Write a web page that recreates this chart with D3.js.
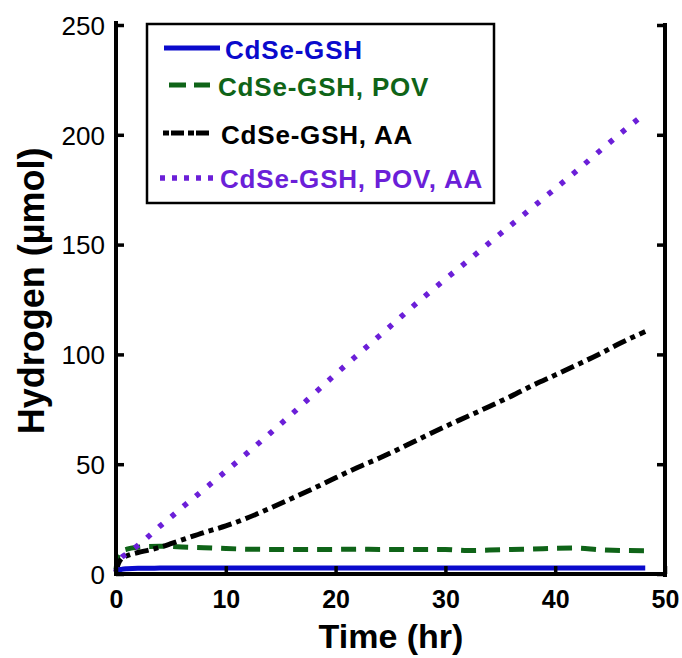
<!DOCTYPE html>
<html>
<head>
<meta charset="utf-8">
<script src="https://cdn.jsdelivr.net/npm/d3@7"></script>
<style>
  html, body { margin: 0; padding: 0; background: #fff; }
  svg { display: block; }
  text { font-family: "Liberation Sans", Arial, Helvetica, sans-serif; }
</style>
</head>
<body>
<svg id="chart" width="682" height="658"></svg>
<script>
// Hydrogen evolution over time for CdSe-GSH systems
const timeHr = [0, 0.2, 0.5, 1, 2, 3, 4, 5, 6, 8, 10, 12, 14, 16, 18, 20, 22, 24, 26, 28, 30, 32, 34, 36, 38, 40, 42, 44, 46, 48.2];

const seriesNames = ["CdSe-GSH", "CdSe-GSH, POV", "CdSe-GSH, AA", "CdSe-GSH, POV, AA"];

const h2Gsh = [0.8, 1.6, 2.1, 2.4, 2.6, 2.6, 2.7, 2.7, 2.7, 2.7, 2.7, 2.7, 2.7, 2.7, 2.7, 2.7, 2.7, 2.7, 2.7, 2.7, 2.7, 2.7, 2.7, 2.7, 2.7, 2.7, 2.7, 2.7, 2.7, 2.7];
const h2GshPov = [2, 8.5, 10.3, 11.3, 12.2, 12.5, 12.6, 12.5, 12.3, 12.0, 11.6, 11.3, 11.2, 11.2, 11.2, 11.2, 11.3, 11.2, 11.2, 11.2, 11.2, 10.7, 10.9, 11.2, 11.4, 11.7, 11.8, 11.1, 10.7, 10.6];
const h2GshAa = [1, 4.5, 7, 8.3, 9.8, 10.9, 12.2, 13.8, 15.5, 18.9, 21.9, 25.6, 29.9, 34.4, 39, 43.8, 48.5, 52.8, 57.5, 62.4, 67.2, 71.7, 76.3, 81, 86, 90.6, 95.3, 100.1, 105.3, 110.4];
const h2GshPovAa = [1, 5.5, 7.5, 9.2, 13, 17.3, 21.8, 25.9, 30.2, 38.5, 46.8, 55.3, 63.9, 72.8, 81.9, 91, 99.8, 108.5, 117.3, 126, 134.3, 142.4, 150.8, 159, 167.2, 175.5, 183.8, 192.4, 200.8, 209.8];

const xTicks = [0, 10, 20, 30, 40, 50];
const yTicks = [0, 50, 100, 150, 200, 250];

const colors = ["#0a0acc", "#0f6418", "#000000", "#6b1fd8"];
const dashes = [null, "15,9", "14,5,5,5", "5,11"];
const widths = [5, 5, 5, 5.5];

const svg = d3.select("#chart");

const x = d3.scaleLinear().domain([0, 50]).range([116, 665]);
const y = d3.scaleLinear().domain([0, 250]).range([574, 25]);

// data lines (drawn first so the axes sit on top)
const allSeries = [h2Gsh, h2GshPov, h2GshAa, h2GshPovAa];
const line = d3.line()
  .x((d, i) => x(timeHr[i]))
  .y(d => y(d))
  .curve(d3.curveMonotoneX);

const order = [1, 2, 3, 0];
order.forEach(k => {
  svg.append("path")
    .datum(allSeries[k])
    .attr("d", line)
    .attr("fill", "none")
    .attr("stroke", colors[k])
    .attr("stroke-width", widths[k])
    .attr("stroke-dasharray", dashes[k])
    .attr("stroke-linecap", "butt")
    .attr("stroke-linejoin", "round");
});

// axes
const yAxis = d3.axisLeft(y)
  .tickValues(yTicks)
  .tickSizeInner(-8)
  .tickSizeOuter(0)
  .tickPadding(11);
const gy = svg.append("g").attr("transform", "translate(116,0)").call(yAxis);
gy.selectAll("text")
  .attr("font-size", 26)
  .attr("font-weight", "normal")
  .attr("fill", "#000")
  .attr("dy", "0.36em");

const yAxisR = d3.axisRight(y)
  .tickValues(yTicks)
  .tickSizeInner(-8)
  .tickSizeOuter(0)
  .tickFormat("");
const gyr = svg.append("g").attr("transform", "translate(665,0)").call(yAxisR);

const xAxis = d3.axisBottom(x)
  .tickValues(xTicks)
  .tickSizeInner(-8)
  .tickSizeOuter(0)
  .tickPadding(16);
const gx = svg.append("g").attr("transform", "translate(0,574)").call(xAxis);
gx.selectAll("text")
  .attr("font-size", 25)
  .attr("font-weight", "bold")
  .attr("fill", "#000");

[gy, gyr, gx].forEach(g => {
  g.select(".domain").attr("stroke", "#000").attr("stroke-width", 4);
  g.selectAll(".tick line").attr("stroke", "#000").attr("stroke-width", 3.5);
});
gy.select(".domain").attr("d", "M0,21V576");
gyr.select(".domain").attr("d", "M0,23V577");
gx.select(".domain").attr("d", "M114,0H667");

// axis titles
svg.append("text")
  .attr("x", 391)
  .attr("y", 648)
  .attr("text-anchor", "middle")
  .attr("font-size", 34)
  .attr("font-weight", "bold")
  .text("Time (hr)");

svg.append("text")
  .attr("transform", "translate(44,291) rotate(-90)")
  .attr("text-anchor", "middle")
  .attr("font-size", 36)
  .attr("font-weight", "bold")
  .text("Hydrogen (µmol)");

// legend
const legend = svg.append("g");
legend.append("rect")
  .attr("x", 147).attr("y", 24)
  .attr("width", 347).attr("height", 179)
  .attr("fill", "#fff")
  .attr("stroke", "#000")
  .attr("stroke-width", 2.5);

const legendRows = [
  { ly: 48, x1: 164, x2: 220, tx: 225, ty: 59, dash: null },
  { ly: 85, x1: 169, x2: 210, tx: 218, ty: 96, dash: "17,8" },
  { ly: 133, x1: 163, x2: 209, tx: 221, ty: 144, dash: "6,2,13,4" },
  { ly: 178, x1: 160, x2: 216, tx: 220, ty: 188, dash: "5,7" }
];
seriesNames.forEach((name, i) => {
  const r = legendRows[i];
  legend.append("line")
    .attr("x1", r.x1).attr("x2", r.x2)
    .attr("y1", r.ly).attr("y2", r.ly)
    .attr("stroke", colors[i])
    .attr("stroke-width", widths[i])
    .attr("stroke-dasharray", r.dash);
  legend.append("text")
    .attr("x", r.tx).attr("y", r.ty)
    .attr("font-size", 26)
    .attr("font-weight", "bold")
    .attr("letter-spacing", 0.8)
    .attr("fill", colors[i])
    .text(name);
});
</script>
</body>
</html>
